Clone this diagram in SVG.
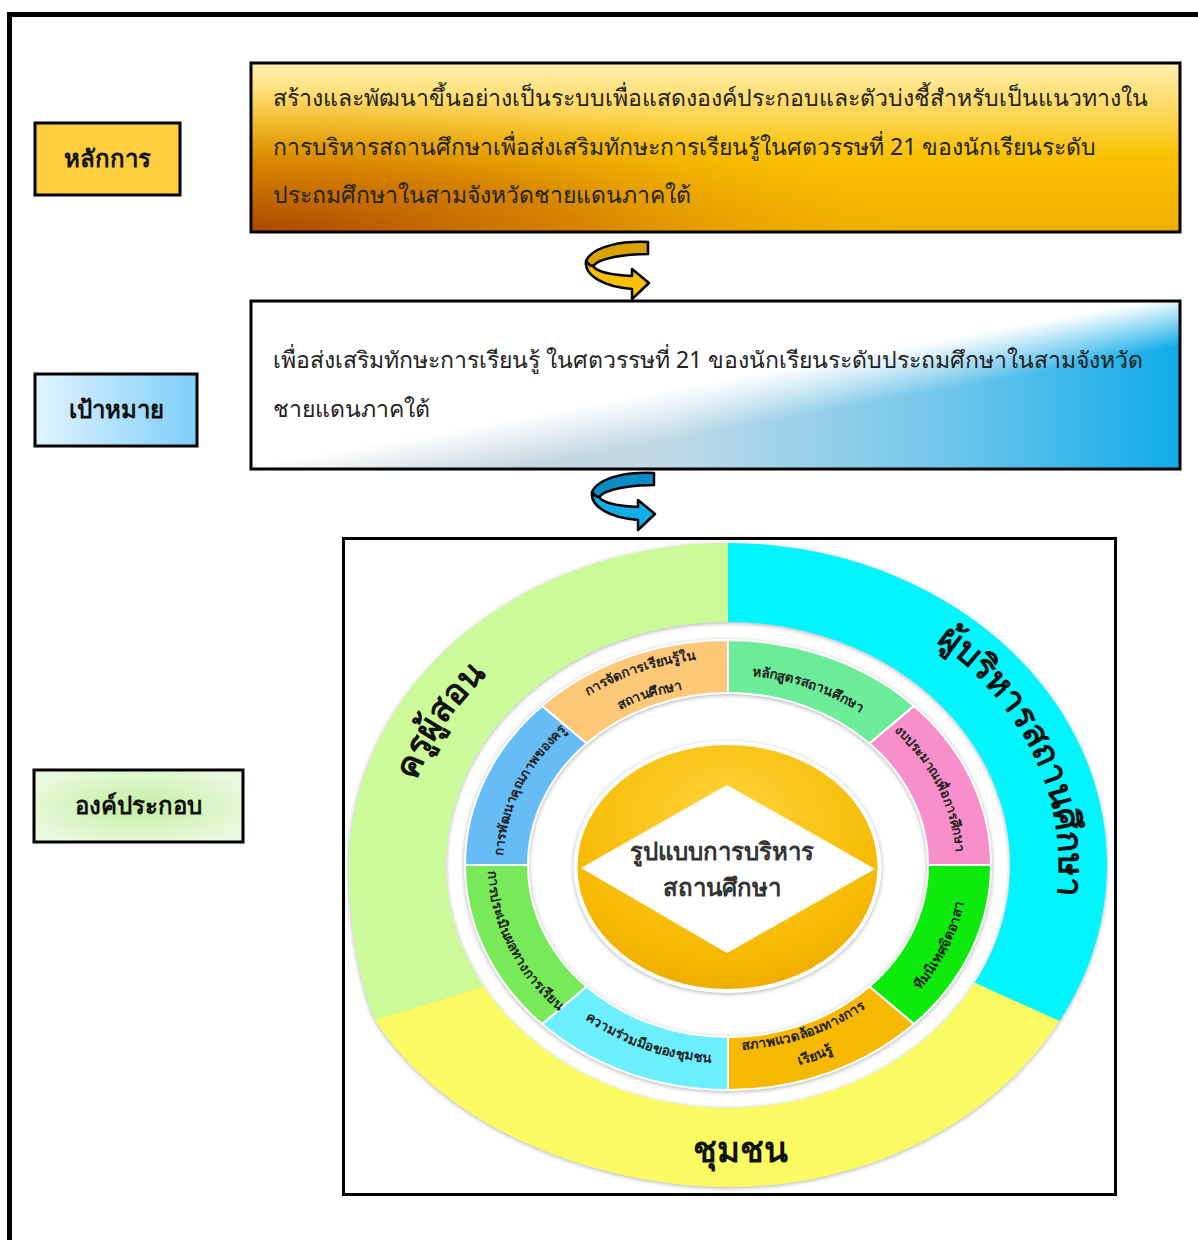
<svg xmlns="http://www.w3.org/2000/svg" width="1198" height="1240" viewBox="0 0 1198 1240">
<defs>
<style>
 .th { font-family: "Noto Sans", "DejaVu Sans", sans-serif; }
 .lbl { font-size: 24px; font-weight: bold; fill: #111; text-anchor: middle; }
 .body { font-size: 23px; fill: #222; }
 .box { stroke: #000; stroke-width: 3; }
 .seg { stroke: #fff; stroke-width: 2; }
 .st { font-size: 13.5px; font-weight: bold; fill: #222; }
 .sm { font-size: 13px; }
 .big { font-size: 35px; font-weight: bold; fill: #111; }
 .arr { stroke: #000; stroke-width: 2.5; stroke-linejoin: round; }
</style>
<linearGradient id="gTop" x1="0" y1="0" x2="0" y2="1">
 <stop offset="0" stop-color="#FFEFB0"/>
 <stop offset="0.3" stop-color="#FDD658"/>
 <stop offset="0.55" stop-color="#F8C100"/>
 <stop offset="1" stop-color="#F0B000"/>
</linearGradient>
<radialGradient id="gBrown" gradientUnits="userSpaceOnUse" cx="0" cy="0" r="1" gradientTransform="translate(255,236) scale(640,150)">
 <stop offset="0" stop-color="#A84400" stop-opacity="1"/>
 <stop offset="0.5" stop-color="#C66800" stop-opacity="0.65"/>
 <stop offset="1" stop-color="#E8A000" stop-opacity="0"/>
</radialGradient>
<linearGradient id="gBlue" x1="251" y1="0" x2="1180" y2="0" gradientUnits="userSpaceOnUse">
 <stop offset="0" stop-color="#CFD2D4"/>
 <stop offset="0.45" stop-color="#C0DAE7"/>
 <stop offset="0.75" stop-color="#70C6EA"/>
 <stop offset="1" stop-color="#0EACE8"/>
</linearGradient>
<linearGradient id="gWhite" x1="715" y1="381" x2="724" y2="430" gradientUnits="userSpaceOnUse">
 <stop offset="0" stop-color="#fff" stop-opacity="1"/>
 <stop offset="1" stop-color="#fff" stop-opacity="0"/>
</linearGradient>
<linearGradient id="gGoal" x1="0" y1="0" x2="1" y2="0">
 <stop offset="0" stop-color="#E2F3FF"/>
 <stop offset="1" stop-color="#7ECEF7"/>
</linearGradient>
<radialGradient id="gComp" cx="0.5" cy="0.5" r="0.6">
 <stop offset="0" stop-color="#C2EFA0"/>
 <stop offset="1" stop-color="#EAF9E0"/>
</radialGradient>
<radialGradient id="gCore" cx="0.5" cy="0.3" r="0.7">
 <stop offset="0" stop-color="#FFD43C"/>
 <stop offset="0.8" stop-color="#F6B900"/>
 <stop offset="1" stop-color="#EFAE00"/>
</radialGradient>
<filter id="sh" x="-10%" y="-10%" width="120%" height="120%">
 <feDropShadow dx="0" dy="1" stdDeviation="2" flood-color="#777" flood-opacity="0.6"/>
</filter>
<path id="arrD" d="M63,2 C40,1 8,5 1,21 C4,25 6,26 8,26 C14,18 40,14 63,14 Z"/>
<path id="arrL" d="M1,21 C-1,36 20,47 47,49 L47,59 L64,43 L47,29 L47,36 C25,35 12,32 8,26 C6,26 3,24 1,21 Z"/>
<path id="tpKru" d="M424.8,970.3 A327,281 0 0 1 660.0,590.1"/>
<path id="tpAdm" d="M779.8,581.5 A331,287 0 0 1 985.2,1045.6"/>
<path id="tpJ1" d="M512.5,769.4 A243,207 0 0 1 801.1,667.6"/>
<path id="tpJ2" d="M538.2,781.9 A214,180 0 0 1 792.3,693.3"/>
<path id="tpLak" d="M661.5,683.8 A221,190 0 0 1 924.0,777.3"/>
<path id="tpNgob" d="M833.3,691.1 A228,196 0 0 1 945.4,923.9"/>
<path id="tpTeam" d="M838.8,1049.5 A240,208 0 0 0 956.9,802.5"/>
<path id="tpSp1" d="M663.0,1041.4 A216,185 0 0 0 919.6,950.4"/>
<path id="tpSp2" d="M655.2,1064.3 A242,209 0 0 0 942.7,961.5"/>
<path id="tpKwam" d="M525.8,956.4 A228,198 0 0 0 796.6,1053.8"/>
<path id="tpPrm" d="M499.1,803.1 A240,206 0 0 0 617.2,1047.7"/>
<path id="tpPat" d="M513.4,923.0 A225,193 0 0 1 624.1,693.8"/>
</defs>

<rect width="1198" height="1240" fill="#fff"/>
<rect id="frame" x="9.5" y="14.5" width="1200" height="1240" fill="none" stroke="#000" stroke-width="5"/>

<g id="label-principle">
 <rect class="box" x="35" y="123" width="145" height="72" fill="#FDCC3F"/>
 <text class="th lbl" x="107.5" y="167">หลักการ</text>
</g>
<g id="label-goal">
 <rect class="box" x="35" y="374" width="162" height="72" fill="url(#gGoal)"/>
 <text class="th lbl" x="116" y="418">เป้าหมาย</text>
</g>
<g id="label-component">
 <rect class="box" x="34" y="770" width="209" height="72" fill="url(#gComp)"/>
 <text class="th lbl" x="138.5" y="814">องค์ประกอบ</text>
</g>

<g id="node-principle">
 <rect x="251" y="63" width="929" height="169" fill="url(#gTop)"/>
 <rect x="251" y="63" width="929" height="169" fill="url(#gBrown)"/>
 <rect class="box" x="251" y="63" width="929" height="169" fill="none"/>
 <text class="th body" x="273" y="106">สร้างและพัฒนาขึ้นอย่างเป็นระบบเพื่อแสดงองค์ประกอบและตัวบ่งชี้สำหรับเป็นแนวทางใน</text>
 <text class="th body" x="273" y="155">การบริหารสถานศึกษาเพื่อส่งเสริมทักษะการเรียนรู้ในศตวรรษที่ 21 ของนักเรียนระดับ</text>
 <text class="th body" x="273" y="203">ประถมศึกษาในสามจังหวัดชายแดนภาคใต้</text>
</g>

<g id="node-goal">
 <rect x="251" y="301" width="929" height="168" fill="url(#gBlue)"/>
 <rect x="251" y="301" width="929" height="168" fill="url(#gWhite)"/>
 <rect class="box" x="251" y="301" width="929" height="168" fill="none"/>
 <text class="th body" x="273" y="368">เพื่อส่งเสริมทักษะการเรียนรู้ ในศตวรรษที่ 21 ของนักเรียนระดับประถมศึกษาในสามจังหวัด</text>
 <text class="th body" x="273" y="417">ชายแดนภาคใต้</text>
</g>

<g id="connectors">
 <g transform="translate(585,240)">
  <use href="#arrD" class="arr" fill="#D8A200"/>
  <use href="#arrL" class="arr" fill="#F9C102"/>
 </g>
 <g transform="translate(591,471)">
  <use href="#arrD" class="arr" fill="#0A8CC4"/>
  <use href="#arrL" class="arr" fill="#12AEE8"/>
 </g>
</g>

<g id="node-component">
 <rect x="343.5" y="538.5" width="772" height="656" fill="#fff" stroke="#000" stroke-width="3"/>

 <g id="outer-ring" filter="url(#sh)">
  <path id="seg-kru" d="M375,1020 C360,985 349,930 349,865 A379,322 0 0 1 728,543 L728,622 A282,243 0 0 0 483.8,986.5 Z" fill="#CCFA99"/>
  <path id="seg-admin" d="M728,543 A379,322 0 0 1 1059.5,1021.1 L974.6,982.8 A282,243 0 0 0 728,622 Z" fill="#04F5FD"/>
  <path id="seg-community" d="M1059.5,1021.1 A379,322 0 0 1 728,1187 C600,1187 445,1130 375,1020 L483.8,986.5 A282,243 0 0 0 974.6,982.8 Z" fill="#FAFA62"/>
 </g>
 <text class="th big"><textPath href="#tpKru" startOffset="50%" text-anchor="middle">ครูผู้สอน</textPath></text>
 <text class="th big" font-size="34"><textPath href="#tpAdm" startOffset="50%" text-anchor="middle">ผู้บริหารสถานศึกษา</textPath></text>
 <text class="th big" x="740" y="1162" text-anchor="middle">ชุมชน</text>

 <g id="inner-ring" filter="url(#sh)">
  <path class="seg" d="M542.0,705.9 A263,225 0 0 1 728,640 L728,693 A200,172 0 0 0 586.6,743.4 Z" fill="#FDC878"/>
  <path class="seg" d="M728,640 A263,225 0 0 1 914.0,705.9 L869.4,743.4 A200,172 0 0 0 728,693 Z" fill="#6CEC98"/>
  <path class="seg" d="M914.0,705.9 A263,225 0 0 1 991,865 L928,865 A200,172 0 0 0 869.4,743.4 Z" fill="#F78FCA"/>
  <path class="seg" d="M991,865 A263,225 0 0 1 914.0,1024.1 L869.4,986.6 A200,172 0 0 0 928,865 Z" fill="#0CEB0C"/>
  <path class="seg" d="M914.0,1024.1 A263,225 0 0 1 728,1090 L728,1037 A200,172 0 0 0 869.4,986.6 Z" fill="#F6B800"/>
  <path class="seg" d="M728,1090 A263,225 0 0 1 542.0,1024.1 L586.6,986.6 A200,172 0 0 0 728,1037 Z" fill="#6CEFFC"/>
  <path class="seg" d="M542.0,1024.1 A263,225 0 0 1 465,865 L528,865 A200,172 0 0 0 586.6,986.6 Z" fill="#78EA5A"/>
  <path class="seg" d="M465,865 A263,225 0 0 1 542.0,705.9 L586.6,743.4 A200,172 0 0 0 528,865 Z" fill="#66BCF4"/>
 </g>
 <text class="th st"><textPath href="#tpJ1" startOffset="50%" text-anchor="middle">การจัดการเรียนรู้ใน</textPath></text>
 <text class="th st"><textPath href="#tpJ2" startOffset="50%" text-anchor="middle">สถานศึกษา</textPath></text>
 <text class="th st"><textPath href="#tpLak" startOffset="50%" text-anchor="middle">หลักสูตรสถานศึกษา</textPath></text>
 <text class="th st sm"><textPath href="#tpNgob" startOffset="50%" text-anchor="middle">งบประมาณเพื่อการศึกษา</textPath></text>
 <text class="th st"><textPath href="#tpTeam" startOffset="50%" text-anchor="middle">ทีมนิเทศจิตอาสา</textPath></text>
 <text class="th st"><textPath href="#tpSp1" startOffset="50%" text-anchor="middle">สภาพแวดล้อมทางการ</textPath></text>
 <text class="th st"><textPath href="#tpSp2" startOffset="50%" text-anchor="middle">เรียนรู้</textPath></text>
 <text class="th st"><textPath href="#tpKwam" startOffset="50%" text-anchor="middle">ความร่วมมือของชุมชน</textPath></text>
 <text class="th st"><textPath href="#tpPrm" startOffset="50%" text-anchor="middle">การประเมินผลทางการเรียน</textPath></text>
 <text class="th st sm"><textPath href="#tpPat" startOffset="50%" text-anchor="middle">การพัฒนาคุณภาพของครู</textPath></text>

 <g id="core">
  <ellipse cx="727.5" cy="867" rx="154" ry="126" fill="#fff" filter="url(#sh)"/>
  <ellipse cx="727.5" cy="867" rx="150" ry="122" fill="url(#gCore)"/>
  <polygon points="727,785 581,868 727,953 875,869" fill="#fff"/>
  <text class="th" x="722" y="860" font-size="24" font-weight="bold" fill="#333" text-anchor="middle">รูปแบบการบริหาร</text>
  <text class="th" x="722" y="896" font-size="24" font-weight="bold" fill="#333" text-anchor="middle">สถานศึกษา</text>
 </g>
</g>
</svg>
